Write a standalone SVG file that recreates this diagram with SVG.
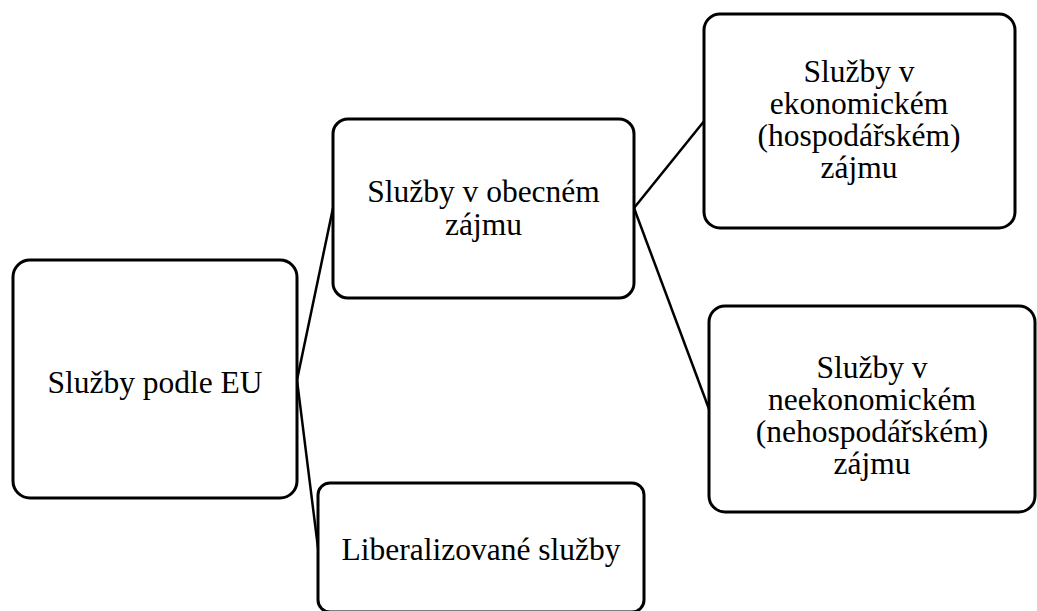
<svg xmlns="http://www.w3.org/2000/svg" width="1037" height="611" viewBox="0 0 1037 611">
<style>
.box{fill:#fff;stroke:#000;stroke-width:3}
.ln{stroke:#000;stroke-width:2.5;fill:none}
text{font-family:"Liberation Serif","Times New Roman",serif;font-size:31.5px;fill:#000;text-anchor:middle}
</style>
<rect width="1037" height="611" fill="#fff"/>
<g id="connectors">
<line class="ln" x1="297" y1="380" x2="333" y2="208"/>
<line class="ln" x1="297" y1="380" x2="318" y2="548"/>
<line class="ln" x1="634" y1="208" x2="705" y2="120"/>
<line class="ln" x1="634" y1="208" x2="709" y2="409"/>
</g>
<g id="n1">
<rect class="box" x="13" y="260" width="284" height="238" rx="17"/>
<text x="155" y="393">Služby podle EU</text>
</g>
<g id="n2">
<rect class="box" x="333" y="119" width="301" height="179" rx="15"/>
<text x="483.5" y="202">Služby v obecném</text>
<text x="483.5" y="235">zájmu</text>
</g>
<g id="n3">
<rect class="box" x="704" y="14" width="311" height="214" rx="16"/>
<text x="859" y="82">Služby v</text>
<text x="859" y="114">ekonomickém</text>
<text x="859" y="146">(hospodářském)</text>
<text x="859" y="178">zájmu</text>
</g>
<g id="n4">
<rect class="box" x="709" y="306" width="326" height="206" rx="16"/>
<text x="872" y="378">Služby v</text>
<text x="872" y="410">neekonomickém</text>
<text x="872" y="442">(nehospodářském)</text>
<text x="872" y="474">zájmu</text>
</g>
<g id="n5">
<rect class="box" x="318" y="483" width="326" height="129" rx="12"/>
<text x="481" y="560">Liberalizované služby</text>
</g>
</svg>
